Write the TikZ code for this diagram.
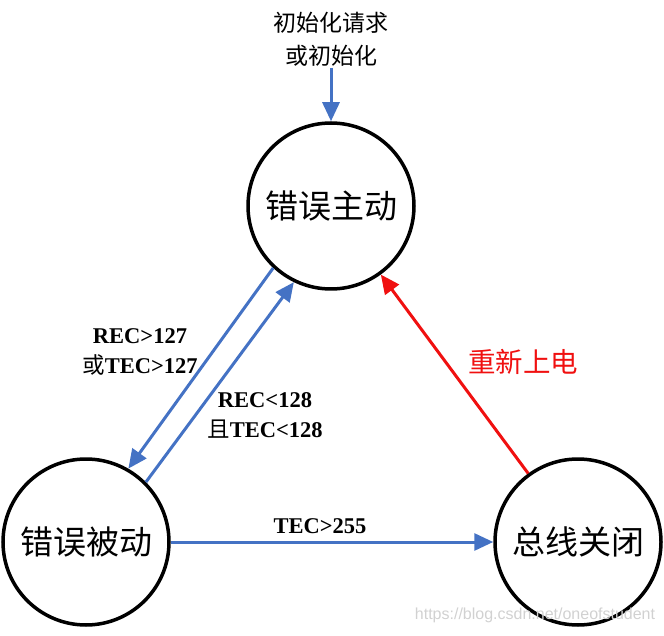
\documentclass[tikz,border=0pt]{standalone}
\usepackage{fontspec}
\setmainfont{Liberation Serif}
\newfontfamily\cjk{Noto Sans CJK SC}
\newfontfamily\wmfont{Liberation Sans}
\usetikzlibrary{arrows.meta}
\definecolor{arrblue}{RGB}{68,114,196}
\definecolor{arrred}{RGB}{240,16,16}
\begin{document}
\begin{tikzpicture}[x=1pt,y=-1pt,
  state/.style={circle,draw=black,line width=3.5pt,minimum size=166pt,inner sep=0pt,
    font=\cjk\fontsize{33}{36}\selectfont},
  tipstyle/.style={-{Triangle[length=19pt,width=17pt]}},
  blueline/.style={draw=arrblue,line width=3pt,tipstyle},
  redline/.style={draw=arrred,line width=3pt,tipstyle},
  lbl/.style={font=\bfseries\fontsize{22.5}{26}\selectfont,inner sep=0pt,anchor=base},
  cjklbl/.style={font=\cjk\fontsize{23}{26}\selectfont,inner sep=0pt},
  redlbl/.style={font=\cjk\fontsize{27.5}{30}\selectfont,text=arrred,inner sep=0pt},
  wmark/.style={font=\wmfont\fontsize{16}{18}\selectfont,text=black!18,inner sep=0pt}
]
\useasboundingbox (0,0) rectangle (664,636);

% states
\node[state] (ea) at (331,206) {错误主动};
\node[state] (ep) at (86,542) {错误被动};
\node[state] (bo) at (578,542) {总线关闭};

% initial text and arrow
\node[cjklbl] (init1) at (331,23) {初始化请求};
\node[cjklbl] (init2) at (331,56) {或初始化};
\coordinate (initsrc) at (331,68);
\draw[blueline] (initsrc) -- (ea.north);

% transitions
\draw[blueline] (ea.227) -- (ep.60);
\draw[blueline] (ep.45) -- (ea.244);
\draw[blueline] (ep.east) -- (bo.west);
\draw[redline] (bo.126) -- (ea.306);

% labels
\node[lbl] (l1a) at (140,343) {REC>127};
\node[lbl] (l1b) at (140,373) {{\mdseries\cjk 或}TEC>127};
\node[lbl] (l2a) at (265,407) {REC<128};
\node[lbl] (l2b) at (265,437) {{\mdseries\cjk 且}TEC<128};
\node[lbl] (l3) at (320,533) {TEC>255};
\node[redlbl] (l4) at (523,362) {重新上电};

% watermark
\node[wmark] (wm) at (535,615) {https://blog.csdn.net/oneofstudent};
\end{tikzpicture}
\end{document}
